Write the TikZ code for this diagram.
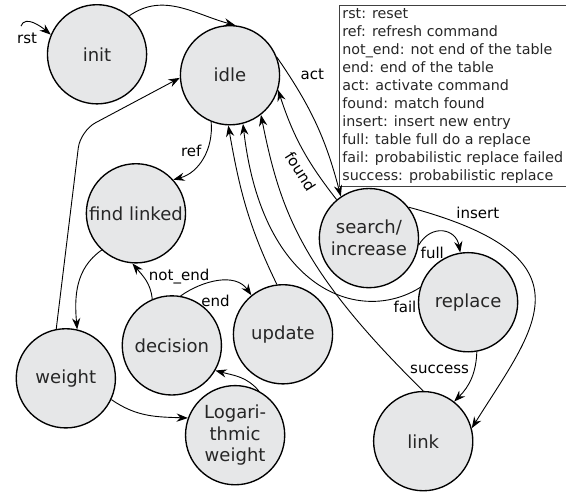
\documentclass[tikz,border=0pt]{standalone}
\usepackage		 {fontspec}
\setmainfont{DejaVu Sans}
\usepackage		 {xcolor   }
\usepackage		 {tikz	  }
\usetikzlibrary{shapes,calc,positioning}
\usetikzlibrary	 {arrows.meta}

\definecolor{stfill}{RGB}{230,231,232}

\begin{document}
\begin{tikzpicture}[scale=1,font=\fontsize{10}{12}\selectfont,
    >={Stealth[length=7.5pt,width=5.5pt,inset=2.5pt]}]
  \tikzset{ st/.style={circle,draw,line width=0.9pt,fill=stfill,text=black!85,
                       minimum size=2.32cm,inner sep=1pt,align=center,
                       font=\fontsize{12}{14.5}\selectfont},
            tr/.style={->,line width=0.6pt},
  }
  \useasboundingbox (0,0) rectangle (13.24,11.54);

  \node[st] (init)   at (2.27, 10.27) {init};
  \node[st] (idle)   at (5.38,  9.78) {idle};
  \node[st] (find)   at (3.18,  6.55) {find linked};
  \node[st] (weight) at (1.54,  2.69) {weight};
  \node[st] (dec)    at (4.02,  3.46) {decision};
  \node[st] (upd)    at (6.62,  3.72) {update};
  \node[st] (logw)   at (5.50,  1.36) {Logari-\\thmic\\weight};
  \node[st] (search) at (8.63,  5.97) {search/\\increase};
  \node[st] (repl)   at (10.95, 4.47) {replace};
  \node[st] (link)   at (9.90,  1.22) {link};

  \coordinate (rst)    at (0.49, 10.93);
  \coordinate (corner) at (1.88,  8.48);

  % legend of the transition names
  \node[draw=black!75,line width=0.5pt,anchor=north west,align=left,inner sep=2pt,
        text=black!85,font=\fontsize{9.5}{12}\selectfont] (legend) at (7.93,11.42)
    {rst: reset\\
     ref: refresh command\\
     not\_end: not end of the table\\
     end: end of the table\\
     act: activate command\\
     found: match found\\
     insert: insert new entry\\
     full: table full do a replace\\
     fail: probabilistic replace failed\\
     success: probabilistic replace};

  % the transitions between the states
  \draw[tr] (rst) to[out=70,in=140] node[pos=0.1,below=3pt,xshift=3pt] {rst} (init.157);
  \draw[tr] (init.50) to[out=35,in=165] (idle.84);
  \draw[tr] (idle.21) to[bend left=10] node[pos=0.2,above right] {act} (search.124);
  \draw[tr] (search.130) to[bend left=10] node[pos=0.33,sloped,below=1pt] {found} (idle.-17);
  \draw[tr] (idle.248) to[out=-85,in=15] node[pos=0.38,left] {ref} (find.42);
  \draw[tr] (find.227) to[out=215,in=95] (weight.77);
  \draw[tr,rounded corners=0.4cm] (weight.101) -- (corner) -- (idle.183);
  \draw[tr] (weight.-25) to[out=-35,in=178] (logw.160);
  \draw[tr] (logw.62) to[out=130,in=-15] (dec.-30);
  \draw[tr] (dec.113) to[out=95,in=-50] node[pos=0.6,right] {not\_end} (find.266);
  \draw[tr] (dec.80) to[out=35,in=125] node[midway,below=6pt,xshift=-2pt] {end} (upd.129);
  \draw[tr] (upd.97) to[out=116,in=-80] (idle.268);
  \draw[tr] (search.-8) to[out=60,in=100,looseness=1.5] node[pos=0.3,below=6pt] {full} (repl.99);
  \draw[tr] (search.38) to[out=-15,in=58,out looseness=2.2,in looseness=1.3]
    node[pos=0.15,above=5pt] {insert} (link.15);
  \draw[tr] (repl.-80) to[out=-92,in=45] node[pos=0.3,left] {success} (link.52);
  \draw[tr] (repl.163) to[out=212,in=-83.5,out looseness=0.75,in looseness=1.78]
    node[pos=0.08,below] {fail} (idle.285);
  \draw[tr] (link.90) to[out=135.5,in=-78.6,out looseness=1.37,in looseness=0.78] (idle.-52);
\end{tikzpicture}
\end{document}
